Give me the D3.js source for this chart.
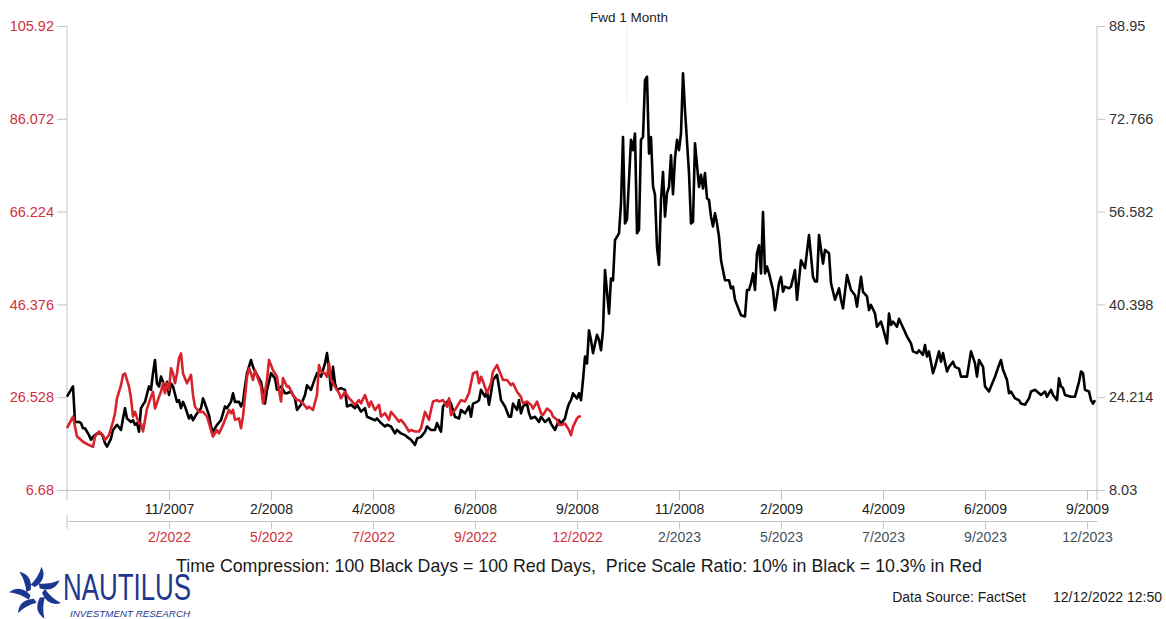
<!DOCTYPE html>
<html><head><meta charset="utf-8">
<script src="https://cdn.jsdelivr.net/npm/d3@7"></script>
<style>
body{margin:0;background:#fff;}
svg{display:block;}
text{font-family:"Liberation Sans",Arial,sans-serif;}
</style>
</head><body>
<svg id="chart" width="1166" height="619"></svg>
<script>
// ---- DATA ----
// Black: VIX 2007-2009 (right axis), x = trading-day index
const blackSeries = [
[0,24.3],[3,26.1],[4,19.9],[6,19.9],[7,19.7],[8,18.8],[9,18.8],[11,17.6],[12,16.8],[13,17.3],[15,17.9],[17,17.9],[18,17.3],[19,16.2],[20,15.6],[22,17.0],[23,18.5],[25,19.4],[27,18.5],[28,20.5],[29,22.3],[30,20.5],[32,19.9],[33,20.2],[34,19.4],[35,19.7],[36,18.2],[37,22.3],[38,22.9],[39,23.4],[41,26.1],[42,25.5],[43,28.4],[44,30.7],[45,26.6],[46,26.1],[47,27.8],[48,26.9],[49,25.2],[50,26.9],[51,24.6],[52,26.6],[53,26.1],[55,23.4],[56,23.7],[57,22.3],[58,23.4],[59,22.6],[61,20.5],[62,21.1],[63,20.2],[65,21.4],[67,22.3],[68,24.0],[69,23.1],[71,21.1],[72,19.1],[73,18.2],[75,19.4],[77,20.2],[78,21.4],[79,22.6],[80,22.3],[82,23.4],[83,24.9],[84,23.4],[86,23.4],[87,22.6],[88,23.4],[89,26.1],[90,28.4],[92,30.7],[93,29.5],[94,28.7],[96,27.5],
[97,26.9],[99,23.1],[100,25.5],[102,28.4],[104,27.5],[105,25.5],[107,26.1],[109,24.9],[110,24.9],[112,25.2],[114,24.0],[115,22.0],[117,22.9],[119,24.6],[120,26.3],[122,25.5],[124,27.5],[125,28.4],[127,27.8],[129,30.1],[130,31.9],[131,29.2],[132,25.5],[133,29.5],[134,26.6],[135,25.5],[137,25.8],[139,25.5],[140,22.6],[142,22.9],[144,22.3],[145,22.9],[147,21.7],[149,22.3],[150,20.8],[152,20.5],[154,20.2],[155,20.5],[157,19.7],[159,19.1],[160,19.4],[162,19.1],[164,17.9],[165,18.5],[167,17.9],[169,17.6],[170,17.3],[172,16.8],[174,15.9],[175,17.0],[177,17.3],[179,18.2],[180,19.1],[182,18.5],[184,18.5],[185,19.7],[187,18.2],[188,22.6],[190,23.4],[191,23.7],[192,23.1],[194,20.8],
[196,20.5],[197,22.0],[199,21.4],[201,22.6],[202,20.8],[203,23.1],[205,23.4],[206,23.7],[207,25.5],[209,24.3],[210,25.2],[211,22.9],[212,24.9],[213,27.2],[215,28.1],[216,26.0],[217,23.7],[219,22.6],[221,20.8],[222,20.8],[223,23.1],[225,22.0],[226,23.7],[227,21.4],[228,22.6],[230,23.1],[231,21.4],[232,20.5],[234,20.8],[236,19.9],[237,20.8],[239,19.9],[241,20.5],[242,19.6],[244,18.5],[246,20.2],[247,19.6],[249,20.5],[250,22.0],[251,23.1],[252,23.7],[253,24.9],[255,24.0],[256,24.9],[257,23.7],[258,27.2],[259,31.3],[260,30.1],[261,35.9],[262,34.2],[263,31.9],[265,35.1],[266,34.2],[267,32.4],[268,35.9],[269,46.4],[271,38.8],[272,44.9],[273,44.6],[274,51.6],[276,52.8],[277,58.0],[278,69.6],[279,54.5],[280,55.2],[282,69.1],[283,67.3],[284,70.2],[285,52.8],[286,53.4],[287,69.1],[288,69.6],[289,79.5],[290,80.1],[291,66.7],[292,69.6],
[293,61.0],[294,59.5],[295,50.4],[296,47.3],[297,58.6],[298,63.5],[299,55.7],[300,59.8],[301,60.9],[302,66.4],[303,59.6],[304,65.9],[305,69.1],[306,67.3],[307,70.2],[308,80.7],[309,74.3],[311,63.3],[312,54.5],[313,54.8],[314,68.5],[316,60.9],[317,63.0],[318,60.6],[319,63.3],[320,58.9],[321,58.6],[322,55.7],[323,54.0],[324,56.3],[325,54.5],[326,52.2],[327,48.1],[329,44.6],[331,44.6],[332,43.2],[333,43.5],[334,41.2],[336,39.4],[337,38.5],[339,38.3],[340,42.9],[341,42.9],[342,44.1],[343,45.8],[344,42.9],[345,49.3],[346,50.7],[347,45.8],[348,56.5],[349,45.8],[350,47.0],[351,45.8],[353,42.9],[354,39.4],[356,44.1],[357,45.2],[358,42.6],[359,43.5],[361,43.2],[362,43.5],[364,46.4],[365,41.2],[367,48.1],[369,46.7],[371,52.5],[373,45.2],[374,44.4],[375,44.4],[376,52.5],[378,47.5],[379,49.9],[381,49.3],[382,44.1],[384,41.2],[386,43.2],[387,41.2],[388,39.7],
[390,45.5],[392,42.9],[394,42.0],[395,40.0],[397,45.2],[398,42.6],[400,41.8],[401,39.4],[402,40.3],[404,38.8],[405,36.5],[407,37.4],[408,36.2],[410,33.6],[411,38.8],[412,36.8],[413,37.4],[415,36.5],[416,37.9],[417,37.1],[419,35.6],[420,34.8],[422,33.6],[423,32.2],[425,31.9],[426,32.4],[428,31.6],[429,33.3],[430,31.3],[431,32.2],[433,28.4],[434,29.5],[436,32.2],[437,30.4],[438,31.9],[440,28.7],[441,29.5],[443,30.4],[444,29.5],[446,29.2],[447,27.8],[450,27.8],[452,32.2],[454,30.1],[455,27.8],[456,30.7],[458,29.5],[459,26.1],[461,25.2],[462,26.1],[464,27.8],[466,29.8],[467,30.7],[468,29.0],[470,27.2],[471,24.9],[472,25.2],[474,24.0],[476,23.7],[477,23.1],[479,22.9],[481,24.0],[482,25.2],[484,25.5],[486,24.9],[487,24.6],[489,25.2],[490,24.3],[492,25.5],[493,24.6],[495,23.7],[496,27.5],[497,26.1],[498,25.8],[499,24.6],[502,24.3],[504,24.3],[506,26.9],[507,28.7],[508,28.4],[509,25.5],[511,25.2],[512,23.7],[513,23.1],[514,23.7]
];
// Red: VIX 2022 (left axis)
const redSeries = [
[0,19.9],[3,22.4],[5,18.1],[7,17.4],[8,17.0],[11,16.3],[13,15.9],[14,18.1],[16,19.2],[18,18.4],[19,17.4],[21,18.4],[23,21.3],[24,23.1],[25,26.3],[27,29.1],[28,31.3],[29,31.6],[31,28.8],[32,26.3],[33,22.4],[34,23.4],[36,20.9],[37,20.9],[38,19.2],[40,24.1],[42,26.6],[43,27.7],[44,24.1],[46,26.6],[47,27.7],[48,29.5],[49,27.4],[50,29.5],[51,28.1],[52,32.7],[53,31.6],[54,29.5],[55,31.6],[56,34.8],[57,35.9],[58,31.6],[60,29.5],[62,31.3],[63,27.0],[64,24.5],[66,23.4],[68,23.4],[70,22.4],[72,19.5],[73,18.1],[75,19.5],[76,18.8],[78,20.6],[79,21.7],[81,23.8],[82,23.1],[83,23.8],[84,21.7],[86,22.0],[87,19.9],[88,22.4],[90,30.9],[91,32.7],[92,31.6],[93,30.2],[94,32.3],[96,29.9],
[97,28.8],[98,25.2],[100,30.2],[101,34.5],[103,32.3],[105,30.9],[106,28.1],[107,25.6],[108,30.6],[110,28.8],[111,28.8],[113,27.0],[115,25.9],[116,25.9],[118,25.2],[120,24.1],[121,24.5],[123,23.8],[125,27.0],[126,33.4],[127,32.0],[129,31.6],[130,30.9],[131,33.8],[132,30.2],[134,28.8],[136,27.4],[137,26.3],[139,27.7],[141,26.3],[142,25.9],[144,24.9],[146,25.9],[147,25.2],[149,27.0],[151,24.5],[152,25.6],[154,23.8],[156,24.9],[157,22.4],[159,23.1],[161,21.7],[162,23.4],[164,22.4],[166,21.3],[167,21.7],[169,20.6],[171,19.2],[172,19.5],[174,19.2],[176,19.2],[177,19.9],[179,23.4],[181,21.7],[182,23.8],[183,25.6],[185,25.9],[186,25.6],[188,25.9],[190,24.5],[191,26.3],[192,22.7],[194,23.8],
[196,25.2],[197,25.9],[199,25.6],[201,27.4],[202,29.5],[203,31.6],[205,32.0],[206,29.5],[207,30.9],[208,29.9],[210,27.4],[212,29.5],[213,32.0],[215,33.4],[217,31.3],[218,30.2],[220,30.2],[222,29.1],[223,29.5],[225,27.7],[227,26.6],[228,25.2],[230,25.6],[232,24.9],[233,24.1],[235,25.6],[237,23.1],[238,22.7],[240,24.1],[242,23.4],[243,22.4],[245,21.7],[246,20.6],[247,20.6],[249,20.9],[251,19.5],[252,18.4],[253,20.2],[255,22.0],[256,22.4],[257,22.4]
];
const dayDomain = [0, 515];
const leftTicks = [6.68, 26.528, 46.376, 66.224, 86.072, 105.92];
const rightTicks = [8.03, 24.214, 40.398, 56.582, 72.766, 88.95];
const tickDays = [51, 102, 153, 204, 255, 306, 357, 408, 459, 510];
const blackLabels = ["11/2007","2/2008","4/2008","6/2008","9/2008","11/2008","2/2009","4/2009","6/2009","9/2009"];
const redLabels = ["2/2022","5/2022","7/2022","9/2022","12/2022","2/2023","5/2023","7/2023","9/2023","12/2023"];
const pastRedLabels = 5; // labels up to "12/2022" are history (red)
const fwdDay = 280;
const titleText = "Fwd 1 Month";
const footerText = "Time Compression: 100 Black Days = 100 Red Days,\u00A0\u00A0Price Scale Ratio: 10% in Black = 10.3% in Red";
const sourceText = "Data Source: FactSet";
const stampText = "12/12/2022 12:50";

// ---- LAYOUT ----
const mLeft = 67, mRight = 1097, mTop = 26, mBottom = 490;
const RED = "#d8222c", LABEL_RED = "#d0323e", GRID = "#c4c4c4";
const FONT = "Liberation Sans, Arial, sans-serif";

const svg = d3.select("#chart");
const x = d3.scaleLinear().domain(dayDomain).range([mLeft, mRight]);
const yL = d3.scaleLinear().domain([leftTicks[0], leftTicks[leftTicks.length-1]]).range([mBottom, mTop]);
const yR = d3.scaleLinear().domain([rightTicks[0], rightTicks[rightTicks.length-1]]).range([mBottom, mTop]);

// fwd marker
svg.append("line").attr("x1", x(fwdDay)).attr("x2", x(fwdDay)).attr("y1", mTop).attr("y2", 102)
  .attr("stroke", "#f0f0f0").attr("stroke-width", 1);
svg.append("text").attr("x", x(fwdDay) + 2).attr("y", 22).attr("text-anchor", "middle")
  .attr("font-size", 13.5).attr("fill", "#222").text(titleText);

// left axis
const gL = svg.append("g").attr("transform", `translate(${mLeft},0)`)
  .call(d3.axisLeft(yL).tickValues(leftTicks).tickSize(10).tickSizeOuter(0).tickPadding(3).tickFormat(d => String(d)));
gL.select(".domain").remove();
gL.selectAll(".tick line").attr("stroke", GRID);
gL.selectAll(".tick text").attr("fill", LABEL_RED).attr("font-size", 14.5).attr("font-family", FONT);
svg.append("line").attr("x1", mLeft).attr("x2", mLeft).attr("y1", mTop).attr("y2", mBottom + 10).attr("stroke", GRID);

// right axis
const gR = svg.append("g").attr("transform", `translate(${mRight},0)`)
  .call(d3.axisRight(yR).tickValues(rightTicks).tickSize(8).tickSizeOuter(0).tickPadding(4).tickFormat(d => String(d)));
gR.select(".domain").remove();
gR.selectAll(".tick line").attr("stroke", GRID);
gR.selectAll(".tick text").attr("fill", "#333").attr("font-size", 14.5).attr("font-family", FONT);
svg.append("line").attr("x1", mRight).attr("x2", mRight).attr("y1", mTop).attr("y2", mBottom + 10).attr("stroke", GRID);

// bottom axis 1 (black dates)
const gB1 = svg.append("g").attr("transform", `translate(0,${mBottom})`)
  .call(d3.axisBottom(x).tickValues(tickDays).tickSize(10).tickSizeOuter(0).tickPadding(4).tickFormat((d,i) => blackLabels[i]));
gB1.select(".domain").attr("stroke", GRID);
gB1.selectAll(".tick line").attr("stroke", GRID);
gB1.selectAll(".tick text").attr("fill", "#222").attr("font-size", 14).attr("font-family", FONT);

// bottom axis 2 (red dates)
const b2 = 521;
const gB2 = svg.append("g").attr("transform", `translate(0,${b2})`)
  .call(d3.axisBottom(x).tickValues(tickDays).tickSize(8).tickSizeOuter(0).tickPadding(3).tickFormat((d,i) => redLabels[i]));
gB2.select(".domain").attr("stroke", GRID);
gB2.selectAll(".tick line").attr("stroke", GRID);
gB2.selectAll(".tick text").attr("fill", (d,i) => i < pastRedLabels ? LABEL_RED : "#44525e")
  .attr("font-size", 14).attr("font-family", FONT);
svg.append("line").attr("x1", mLeft).attr("x2", mLeft).attr("y1", b2 - 6).attr("y2", b2 + 8).attr("stroke", GRID);

// lines
svg.append("path").datum(blackSeries)
  .attr("fill", "none").attr("stroke", "#000").attr("stroke-width", 2.6).attr("stroke-linejoin", "round")
  .attr("d", d3.line().x(d => x(d[0])).y(d => yR(d[1])));
svg.append("path").datum(redSeries)
  .attr("fill", "none").attr("stroke", RED).attr("stroke-width", 2.6).attr("stroke-linejoin", "round")
  .attr("d", d3.line().x(d => x(d[0])).y(d => yL(d[1])));

// footer
svg.append("text").attr("x", 579).attr("y", 572).attr("text-anchor", "middle")
  .attr("font-size", 17.8).attr("fill", "#1a1a1a").text(footerText);
svg.append("text").attr("x", 1026).attr("y", 602).attr("text-anchor", "end")
  .attr("font-size", 14).attr("fill", "#1a1a1a").text(sourceText);
svg.append("text").attr("x", 1162).attr("y", 602).attr("text-anchor", "end")
  .attr("font-size", 14).attr("fill", "#1a1a1a").text(stampText);

// logo
const blue = "#1d3790";
const logo = svg.append("g").attr("transform", "translate(36,593)");
[-160, -110, -60, -10, 40, 90, 140].forEach(a => {
  logo.append("path")
    .attr("d", "M0,-6 Q14,-12 10,-25 Q5,-15 -4,-9 Z")
    .attr("fill", blue).attr("transform", `rotate(${a})`);
});
svg.append("text").attr("x", 63).attr("y", 600).attr("font-family", "Liberation Serif, Times New Roman, serif")
  .attr("font-size", 36).attr("fill", blue).attr("textLength", 128).attr("lengthAdjust", "spacingAndGlyphs").text("NAUTILUS");
svg.append("text").attr("x", 70).attr("y", 617).attr("font-family", "Liberation Serif, Times New Roman, serif")
  .attr("font-style", "italic").attr("font-size", 9.5).attr("fill", blue).attr("textLength", 120).attr("lengthAdjust", "spacingAndGlyphs").text("INVESTMENT RESEARCH");
</script>
</body></html>
